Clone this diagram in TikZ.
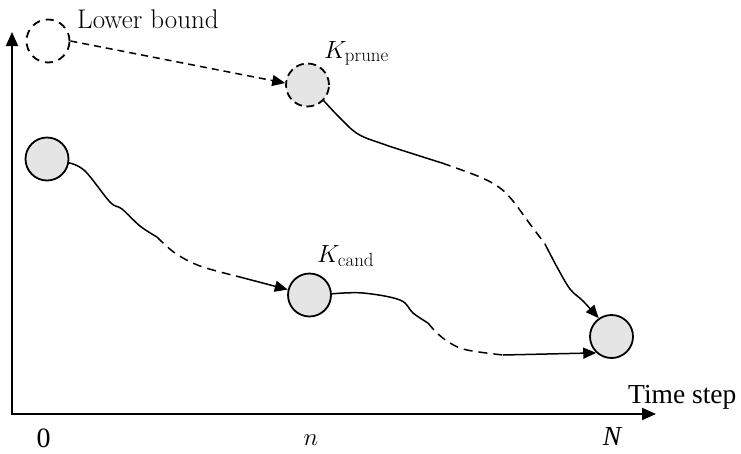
\documentclass[tikz,border=0pt]{standalone}
\usepackage{fontspec}
\newfontfamily\tnr{Liberation Serif}
\usetikzlibrary{arrows.meta}
\begin{document}
\begin{tikzpicture}[x=1pt,y=-1pt,
  circ/.style={circle,draw,line width=1.8pt,fill=gray!20,minimum size=43pt,inner sep=0pt},
  curve/.style={line width=1.5pt},
  dcurve/.style={curve,dash pattern=on 9pt off 6pt},
  tip/.style={-{Triangle[length=13pt,width=11pt]}},
  axis/.style={line width=1.8pt},
  lbl/.style={inner sep=0pt,font=\fontsize{27}{32}\selectfont},
  tlbl/.style={inner sep=0pt,font=\fontsize{27.5}{32}\selectfont\tnr}]
\useasboundingbox (0,0) rectangle (741,453);
% axes
\coordinate (ytop) at (12,32);
\coordinate (O) at (12,414);
\coordinate (xend) at (656,414);
\draw[axis,{Triangle[length=14pt,width=12pt]}-{Triangle[length=14pt,width=12pt]}] (ytop) -- (O) -- (xend);
% circles
\node[circ,fill=none,dash pattern=on 8pt off 6pt] (lb) at (48,41) {};
\node[circ,draw=black,dash pattern=on 8pt off 4.5pt] (prune) at (307.5,85) {};
\node[circ] (start) at (47,159) {};
\node[circ] (cand) at (309.5,295) {};
\node[circ] (final) at (611.5,336.5) {};
% break coordinates
\coordinate (b1) at (157,237);
\coordinate (b2) at (236,276);
\coordinate (b3) at (442,163);
\coordinate (b4) at (545,244);
\coordinate (b5) at (428,323);
\coordinate (b6) at (503,355);
% connectors
\draw[curve,dash pattern=on 7pt off 5pt,tip] (lb.east) -- (prune.175);
\draw[curve] plot[smooth,tension=0.6] coordinates {(start.-10) (85,171) (110,202) (122,209) (140,226) (b1)};
\draw[dcurve] plot[smooth,tension=0.6] coordinates {(b1) (175,253) (200,266) (b2)};
\draw[curve,tip] (b2) -- (cand.166);
\draw[curve] plot[smooth,tension=0.6] coordinates {(prune.-44) (340,118) (358,134) (383,144) (423,157) (b3)};
\draw[dcurve] plot[smooth,tension=0.6] coordinates {(b3) (480,177) (500,188) (513,201) (527,220) (b4)};
\draw[curve,tip] plot[smooth,tension=0.6] coordinates {(b4) (557,267) (570,289) (583,301) (final.125)};
\draw[curve] plot[smooth,tension=0.6] coordinates {(cand.3) (363,293) (400,300) (413,313) (b5)};
\draw[dcurve] plot[smooth,tension=0.6] coordinates {(b5) (437,333) (450,343) (467,350) (b6)};
\draw[curve,tip] (b6) -- (final.227);
% labels
\node[lbl,anchor=base west] (lbt) at (77,28) {Lower bound};
\node[lbl,anchor=base west] (kp) at (324,58) {$K_{\mathrm{prune}}$};
\node[lbl,anchor=base west] (kc) at (317,262) {$K_{\mathrm{cand}}$};
\node[tlbl,anchor=base west] (ts) at (628,403) {Time step};
\node[tlbl,anchor=base,font=\fontsize{28}{32}\selectfont\tnr] (zero) at (43.5,447.5) {0};
\node[lbl,anchor=base] (nn) at (311,445) {$n$};
\node[tlbl,anchor=base] (NN) at (612,445) {\itshape N};
\end{tikzpicture}
\end{document}
